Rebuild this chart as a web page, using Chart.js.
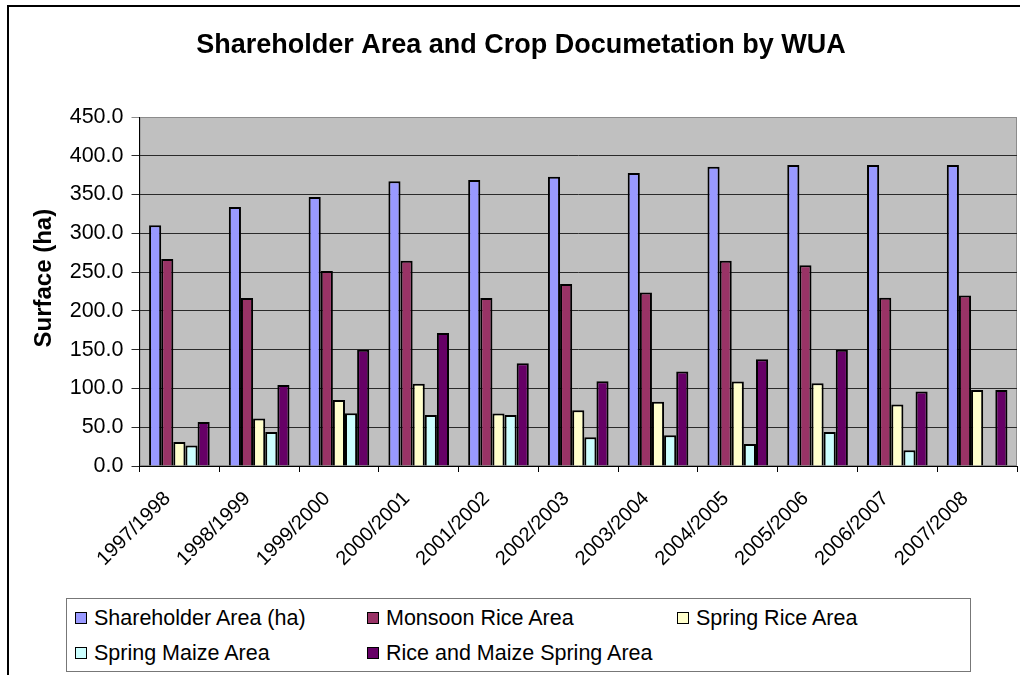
<!DOCTYPE html>
<html>
<head>
<meta charset="utf-8">
<script src="https://cdn.jsdelivr.net/npm/chart.js@4/dist/chart.umd.min.js"></script>
<style>
html,body{margin:0;padding:0;background:#fff;overflow:hidden;width:1020px;height:675px;}
#frame{position:absolute;left:7px;top:5px;width:1100px;height:800px;border:2px solid #000;box-sizing:border-box;}
#wrap{position:absolute;left:0;top:0;width:1036px;height:675px;}
#legend{position:absolute;left:66px;top:598px;width:905px;height:74px;border:1px solid #777;box-sizing:border-box;background:#fff;font-family:"Liberation Sans",Arial,sans-serif;font-size:21.5px;color:#000;}
.item{position:absolute;white-space:nowrap;height:22px;line-height:22px;}
.sw{position:absolute;left:0;width:10px;height:10px;border:1px solid #000;}
.tx{position:absolute;left:19px;top:0;}
</style>
</head>
<body>
<div id="frame"></div>
<div id="wrap"><canvas id="c"></canvas></div>
<div id="legend"></div>
<script>
// ---- data ----
const categories = ["1997/1998","1998/1999","1999/2000","2000/2001","2001/2002","2002/2003","2003/2004","2004/2005","2005/2006","2006/2007","2007/2008"];
const shareholderArea = [310.3, 334.0, 346.8, 367.0, 368.7, 373.1, 377.8, 386.0, 388.1, 388.1, 388.1];
const monsoonRiceArea = [266.9, 216.6, 251.4, 264.8, 216.6, 234.7, 223.6, 264.8, 258.8, 217.1, 219.7];
const springRiceArea = [30.9, 61.1, 85.1, 106.2, 67.6, 71.8, 83.0, 108.8, 106.6, 79.2, 98.0];
const springMaizeArea = [26.3, 43.8, 67.9, 65.8, 65.8, 37.0, 39.6, 28.4, 43.8, 20.2, 0];
const riceMaizeSpringArea = [56.7, 104.4, 150.0, 171.5, 132.4, 109.2, 121.8, 137.6, 150.0, 95.9, 98.0];
const seriesNames = ["Shareholder Area (ha)","Monsoon Rice Area","Spring Rice Area","Spring Maize Area","Rice and Maize Spring Area"];
const seriesColors = ["#9999FF","#993366","#FFFFCC","#CCFFFF","#660066"];
const seriesValues = [shareholderArea, monsoonRiceArea, springRiceArea, springMaizeArea, riceMaizeSpringArea];
const yTicks = [0,50,100,150,200,250,300,350,400,450];

const FONT = '"Liberation Sans", Arial, Helvetica, sans-serif';
Chart.defaults.font.family = FONT;
Chart.defaults.color = '#000';

const plotBg = {
  id: 'plotBg',
  beforeDraw(chart) {
    const {ctx, chartArea: a} = chart;
    ctx.save();
    ctx.fillStyle = '#C0C0C0';
    ctx.fillRect(a.left, a.top, a.width, a.height);
    ctx.strokeStyle = '#8c8c8c';
    ctx.lineWidth = 1;
    ctx.strokeRect(a.left + 0.5, a.top + 0.5, a.width - 1, a.height - 1);
    ctx.restore();
  }
};

const datasets = seriesNames.map((name, i) => ({
  label: name,
  data: seriesValues[i],
  backgroundColor: seriesColors[i],
  borderColor: '#000',
  borderWidth: 2,
  barPercentage: 1.0,
  categoryPercentage: 0.76
}));

new Chart(document.getElementById('c'), {
  type: 'bar',
  data: { labels: categories, datasets },
  options: {
    responsive: true,
    maintainAspectRatio: false,
    animation: false,
    layout: { padding: { left: 25, right: 19, top: 0, bottom: 89 } },
    plugins: {
      legend: { display: false },
      tooltip: { enabled: false },
      title: {
        display: true,
        text: 'Shareholder Area and Crop Documetation by WUA',
        color: '#000',
        font: { family: FONT, size: 27, weight: 'bold', lineHeight: 1.2 },
        padding: { top: 29, bottom: 55.6 }
      }
    },
    scales: {
      x: {
        grid: { display: true, drawOnChartArea: false, drawTicks: true, tickLength: 6, color: '#000', offset: true },
        border: { display: true, color: '#000', width: 1 },
        ticks: { autoSkip: false, maxRotation: 45, minRotation: 45, font: { size: 20 }, color: '#000', padding: 15, labelOffset: -12 },
        afterFit(s) { s.height = 120; }
      },
      y: {
        min: 0, max: 450,
        afterBuildTicks(s) { s.ticks = yTicks.map(v => ({ value: v })); },
        ticks: { font: { size: 21.5 }, color: '#000', padding: 8, callback: v => Number(v).toFixed(1) },
        grid: { color: ctx => (ctx.tick && ctx.tick.value === 450) ? '#8c8c8c' : '#2a2a2a', tickLength: 8, lineWidth: 1 },
        border: { display: true, color: '#000', width: 1 },
        title: { display: true, text: '    Surface (ha)', color: '#000', font: { size: 24, weight: 'bold' }, padding: { top: 5, bottom: 0 } },
        afterFit(s) { s.width = 114.5; }
      }
    }
  },
  plugins: [plotBg]
});

// ---- legend (HTML) ----
const legend = document.getElementById('legend');
const colX = [8, 300, 610];
const rowY = [8, 43];
seriesNames.forEach((name, i) => {
  const r = Math.floor(i / 3), c = i % 3;
  const it = document.createElement('div');
  it.className = 'item';
  it.style.left = colX[c] + 'px';
  it.style.top = rowY[r] + 'px';
  const sw = document.createElement('span');
  sw.className = 'sw';
  sw.style.top = '5px';
  sw.style.background = seriesColors[i];
  const tx = document.createElement('span');
  tx.className = 'tx';
  tx.textContent = name;
  it.appendChild(sw); it.appendChild(tx);
  legend.appendChild(it);
});
</script>
</body>
</html>
